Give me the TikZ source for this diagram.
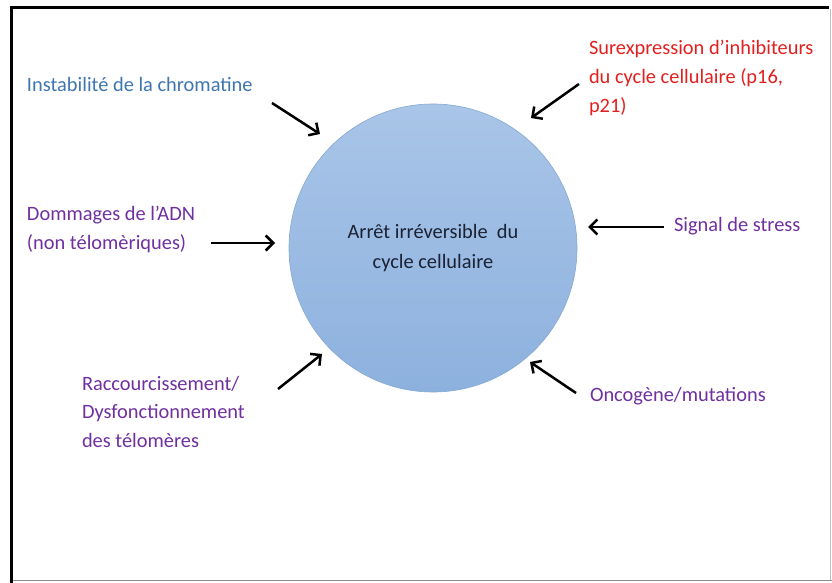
\documentclass[tikz,border=0pt]{standalone}
\usepackage{fontspec}
\setmainfont{Carlito}
\usetikzlibrary{arrows.meta}
\definecolor{txtblue}{HTML}{3F76B0}
\definecolor{txtred}{HTML}{E3201F}
\definecolor{txtpurple}{HTML}{7030A0}
\definecolor{cellA}{HTML}{A9C5E8}
\definecolor{cellB}{HTML}{8DB1DE}
\definecolor{cellEdge}{HTML}{86A8D2}
\definecolor{centertext}{HTML}{1A2233}
\begin{document}
\begin{tikzpicture}[x=1pt,y=-1pt,
  lbl/.style={inner sep=0pt, outer sep=0pt, align=left, font=\fontsize{20.4}{28.7}\selectfont},
  arr/.style={line width=2.5pt, black, -{Straight Barb[length=7.5pt,width=15pt]}},
  framebold/.style={line width=3pt, black},
  framethin/.style={line width=1.5pt, black!45},
]
\useasboundingbox (0,0) rectangle (832,583);
\fill[white] (0,0) rectangle (832,583);
% frame
\draw[framethin] (10,580.5) -- (832,580.5);
\draw[framethin, black!25, line width=1pt] (830.5,9) -- (830.5,580);
\draw[framebold] (11.5,6) -- (11.5,583);
\draw[framebold] (10,7.5) -- (829,7.5);

% central cell
\node[circle, minimum size=288pt, inner sep=0pt, top color=cellA, bottom color=cellB,
      draw=cellEdge, line width=0.6pt, align=center, text=centertext,
      font=\fontsize{20.4}{29.5}\selectfont] (cell) at (433,248)
      {Arrêt irréversible\ \ du\\cycle cellulaire};

% labels
\node[lbl, anchor=base west, text=txtblue] (chrom) at (27,92) {Instabilité de la chromatine};
\node[lbl, anchor=north west, text=txtred] (inhib) at (589,40.5) {Surexpression d’inhibiteurs\\du cycle cellulaire (p16,\\p21)};
\node[lbl, anchor=north west, text=txtpurple] (adn) at (27,206) {Dommages de l’ADN\\(non télomèriques)};
\node[lbl, anchor=north west, text=txtpurple] (telo) at (82,376) {Raccourcissement/\\Dysfonctionnement\\des télomères};
\node[lbl, anchor=base west, text=txtpurple] (stress) at (674,231) {Signal de stress};
\node[lbl, anchor=base west, text=txtpurple] (onco) at (590,401) {Oncogène/mutations};

% arrow end points
\coordinate (a1s) at (272,103); \coordinate (a1e) at (320,134);
\coordinate (a2s) at (579,84);  \coordinate (a2e) at (531,118);
\coordinate (a3s) at (211,243); \coordinate (a3e) at (275,243);
\coordinate (a4s) at (664,227); \coordinate (a4e) at (588,227);
\coordinate (a5s) at (278,389); \coordinate (a5e) at (322,354);
\coordinate (a6s) at (576,393); \coordinate (a6e) at (530,362);

\draw[arr] (a1s) -- (a1e);
\draw[arr] (a2s) -- (a2e);
\draw[arr] (a3s) -- (a3e);
\draw[arr] (a4s) -- (a4e);
\draw[arr] (a5s) -- (a5e);
\draw[arr] (a6s) -- (a6e);
\end{tikzpicture}
\end{document}
